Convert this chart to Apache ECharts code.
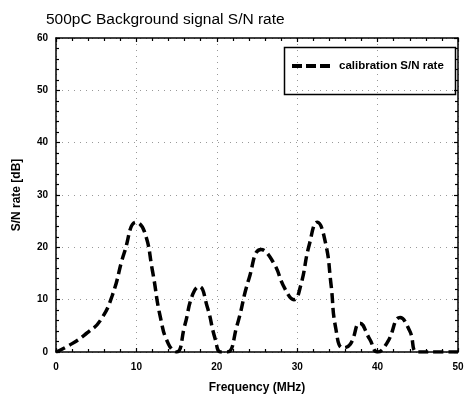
<!DOCTYPE html>
<html>
<head>
<meta charset="utf-8">
<script src="https://cdn.jsdelivr.net/npm/echarts@6/dist/echarts.min.js"></script>
<style>
html,body{margin:0;padding:0;background:#fff;}
#c{width:470px;height:403px;}
</style>
</head>
<body>
<div id="c"></div>
<script>
var titleText = '500pC Background signal S/N rate';
var seriesName = 'calibration S/N rate';
var xName = 'Frequency (MHz)';
var yName = 'S/N rate [dB]';
var freq = [0, 2, 4, 5.5, 7, 8.5, 10, 11, 12, 13, 14, 15, 16, 17, 17.8, 18.8, 19.8, 20.5, 21.3, 22.5, 24, 25.5, 27, 28.5, 29.6, 30.4, 31.5, 32.5, 33.5, 34.2, 34.8, 35.7, 36.6, 37.8, 39, 40, 41.2, 42.8, 44, 45, 47.5, 50];
var snr  = [0, 1.6, 3.8, 6, 10.8, 19, 24.8, 23, 15.5, 6.5, 1.5, 0, 5, 11, 12.5, 8.7, 2.5, 0, 0, 5, 14, 19.6, 17.2, 12, 10, 12.5, 20.5, 24.8, 21, 13, 4.5, 0.8, 1.5, 5.5, 2.5, 0, 1.8, 6.6, 4, 0, 0, 0];
var xTicks = [0, 10, 20, 30, 40, 50];
var yTicks = [0, 10, 20, 30, 40, 50, 60];

var data = freq.map(function (f, i) { return [f, snr[i]]; });
var chart = echarts.init(document.getElementById('c'), null, {renderer: 'canvas'});
var axisFont = {fontFamily: 'Liberation Sans', fontWeight: 'bold', fontSize: 10, color: '#000'};
function baseAxis(extra) {
  return Object.assign({
    type: 'value',
    axisLine: {show: true, onZero: false, lineStyle: {color: '#000', width: 1.5}},
    axisTick: {show: true, inside: true, length: 4, lineStyle: {color: '#000', width: 1.2}},
    minorTick: {show: true, splitNumber: 5, length: 3, lineStyle: {color: '#000', width: 1.2}},
    splitLine: {show: false},
    minorSplitLine: {show: false}
  }, extra);
}
chart.setOption({
  backgroundColor: '#fff',
  animation: false,
  title: {
    text: titleText, left: 41, top: 7,
    textStyle: {fontFamily: 'Liberation Sans', fontWeight: 'normal', fontSize: 15.5, color: '#000'}
  },
  grid: {left: 56, right: 12, top: 38, bottom: 51, containLabel: false},
  legend: {
    data: [{name: seriesName, icon: 'path://M0,0h10v4h-10z M14,0h10v4h-10z M28,0h10v4h-10z'}],
    left: 287, top: 55,
    itemWidth: 38, itemHeight: 4, itemGap: 10,
    itemStyle: {color: '#000'},
    textStyle: {fontFamily: 'Liberation Sans', fontWeight: 'bold', fontSize: 11.5, color: '#000', padding: [0, 0, 0, 4]}
  },
  graphic: [{
    type: 'rect', left: 282, top: 45,
    shape: {width: 171, height: 47},
    style: {fill: 'none', stroke: '#000', lineWidth: 1.5},
    z: 100
  }],
  xAxis: [
    baseAxis({
      min: 0, max: 50, interval: 10, position: 'bottom',
      name: xName, nameLocation: 'middle', nameGap: 30,
      nameTextStyle: {fontFamily: 'Liberation Sans', fontWeight: 'bold', fontSize: 12, color: '#000'},
      axisLabel: Object.assign({margin: 10, formatter: function (v) { return xTicks.indexOf(v) >= 0 ? String(v) : ''; }}, axisFont),
      splitLine: {show: true, lineStyle: {color: '#999', type: [1, 5], width: 1}}
    }),
    baseAxis({min: 0, max: 50, interval: 10, position: 'top', axisLabel: {show: false}})
  ],
  yAxis: [
    baseAxis({
      min: 0, max: 60, interval: 10, position: 'left',
      name: yName, nameLocation: 'middle', nameGap: 33, nameRotate: 90,
      nameTextStyle: {fontFamily: 'Liberation Sans', fontWeight: 'bold', fontSize: 12, color: '#000'},
      axisLabel: Object.assign({margin: 8, formatter: function (v) { return yTicks.indexOf(v) >= 0 ? String(v) : ''; }}, axisFont),
      splitLine: {show: true, lineStyle: {color: '#999', type: [1, 5], width: 1}}
    }),
    baseAxis({min: 0, max: 60, interval: 10, position: 'right', axisLabel: {show: false}})
  ],
  series: [{
    name: seriesName,
    type: 'line',
    data: data,
    smooth: 0.5,
    showSymbol: false,
    symbol: 'none',
    lineStyle: {color: '#000', width: 3.5, type: [10, 5], cap: 'butt'},
    itemStyle: {color: '#000'},
    z: 10
  }]
});
</script>
</body>
</html>
